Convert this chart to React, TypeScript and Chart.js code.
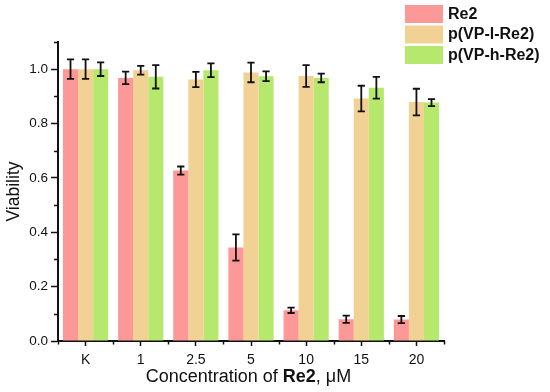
import React, { useEffect, useRef } from "react";
import { Chart, registerables } from "chart.js";

Chart.register(...registerables);

const categories = ["K", "1", "2.5", "5", "10", "15", "20"];
const seriesNames = ["Re2", "p(VP-l-Re2)", "p(VP-h-Re2)"];
const seriesColors = ["#fc9898", "#f1d194", "#b5e86c"];
const re2Values = [1.0, 0.968, 0.627, 0.344, 0.113, 0.08, 0.079];
const re2Errors = [0.036, 0.023, 0.015, 0.048, 0.01, 0.013, 0.013];
const lowValues = [1.0, 0.996, 0.962, 0.988, 0.975, 0.892, 0.879];
const lowErrors = [0.036, 0.016, 0.028, 0.036, 0.04, 0.047, 0.049];
const highValues = [1.0, 0.972, 0.996, 0.974, 0.968, 0.932, 0.877];
const highErrors = [0.025, 0.043, 0.025, 0.018, 0.016, 0.04, 0.013];
const yTicks = [0, 0.2, 0.4, 0.6, 0.8, 1.0];
const yMinorTicks = [0.1, 0.3, 0.5, 0.7, 0.9, 1.1];
const yMax = 1.1;

const FONT = "'Liberation Sans', Arial, sans-serif";

const errorBarPlugin = {
  id: "errorBars",
  afterDatasetsDraw(chart: any) {
    const ctx = chart.ctx;
    const yScale = chart.scales.y;
    const errs = [re2Errors, lowErrors, highErrors];
    ctx.save();
    ctx.strokeStyle = "#111";
    ctx.lineWidth = 1.8;
    chart.data.datasets.forEach((ds: any, di: number) => {
      const meta = chart.getDatasetMeta(di);
      meta.data.forEach((bar: any, i: number) => {
        const v = ds.data[i];
        const e = errs[di][i];
        const x = bar.x;
        const yt = yScale.getPixelForValue(v + e);
        const yb = yScale.getPixelForValue(v - e);
        const cw = 3.6;
        ctx.beginPath();
        ctx.moveTo(x, yt);
        ctx.lineTo(x, yb);
        ctx.moveTo(x - cw, yt);
        ctx.lineTo(x + cw, yt);
        ctx.moveTo(x - cw, yb);
        ctx.lineTo(x + cw, yb);
        ctx.stroke();
      });
    });
    ctx.restore();
  },
};

const decorPlugin = {
  id: "decor",
  afterDraw(chart: any) {
    const ctx = chart.ctx;
    const area = chart.chartArea;
    const xs = chart.scales.x;
    const ys = chart.scales.y;
    ctx.save();
    // minor ticks
    ctx.strokeStyle = "#111";
    ctx.lineWidth = 1.5;
    ctx.beginPath();
    yMinorTicks.forEach((v) => {
      const y = Math.round(ys.getPixelForValue(v)) + 0.5;
      ctx.moveTo(area.left - 4, y);
      ctx.lineTo(area.left, y);
    });
    for (let i = -0.5; i <= categories.length - 0.5; i += 1) {
      const x = Math.round(xs.getPixelForValue(i)) + 0.5;
      ctx.moveTo(x, area.bottom);
      ctx.lineTo(x, area.bottom + 3.5);
    }
    ctx.stroke();

    // x title with bold part
    ctx.fillStyle = "#111";
    ctx.textBaseline = "middle";
    const parts = [
      { t: "Concentration of ", f: `18px ${FONT}` },
      { t: "Re2", f: `bold 18px ${FONT}` },
      { t: ", \u03bcM", f: `18px ${FONT}` },
    ];
    let total = 0;
    parts.forEach((p) => {
      ctx.font = p.f;
      total += ctx.measureText(p.t).width;
    });
    let x0 = 248.5 - total / 2;
    const ty = 377;
    ctx.textAlign = "left";
    parts.forEach((p) => {
      ctx.font = p.f;
      ctx.fillText(p.t, x0, ty);
      x0 += ctx.measureText(p.t).width;
    });

    // y title
    ctx.save();
    ctx.translate(14, (area.top + area.bottom) / 2);
    ctx.rotate(-Math.PI / 2);
    ctx.textAlign = "center";
    ctx.font = `17.5px ${FONT}`;
    ctx.fillText("Viability", 0, 0);
    ctx.restore();

    // legend
    const lx = 405;
    const sw = 38;
    const sh = 18;
    const ly0 = 5;
    const step = 20.5;
    seriesNames.forEach((name, i) => {
      const y = ly0 + i * step;
      ctx.fillStyle = seriesColors[i];
      ctx.fillRect(lx, y, sw, sh);
      ctx.fillStyle = "#111";
      ctx.font = `bold 16px ${FONT}`;
      ctx.textAlign = "left";
      ctx.textBaseline = "middle";
      ctx.fillText(name, lx + sw + 5, y + sh / 2 + 0.5);
    });
    ctx.restore();
  },
};

export default function App() {
  const ref = useRef<HTMLCanvasElement | null>(null);
  useEffect(() => {
    document.body.style.margin = "0";
    const canvas = ref.current;
    if (!canvas) return;
    const chart = new Chart(canvas, {
      type: "bar",
      data: {
        labels: categories,
        datasets: [
          { label: seriesNames[0], data: re2Values, backgroundColor: seriesColors[0] },
          { label: seriesNames[1], data: lowValues, backgroundColor: seriesColors[1] },
          { label: seriesNames[2], data: highValues, backgroundColor: seriesColors[2] },
        ],
      },
      options: {
        responsive: false,
        animation: false,
        devicePixelRatio: 1,
        layout: { padding: { left: 0, right: 106, top: 42, bottom: 0 } },
        datasets: { bar: { categoryPercentage: 0.82, barPercentage: 1.0, borderWidth: 0 } },
        plugins: { legend: { display: false }, tooltip: { enabled: false } },
        scales: {
          x: {
            afterFit: (s: any) => {
              s.height = 51;
            },
            grid: {
              display: true,
              offset: false,
              drawOnChartArea: false,
              drawTicks: true,
              tickLength: 5,
              tickColor: "#111",
              tickWidth: 1.5,
            },
            border: { display: true, color: "#111", width: 2 },
            ticks: {
              padding: 6,
              color: "#111",
              font: { family: FONT, size: 14 },
              maxRotation: 0,
            },
          },
          y: {
            min: 0,
            max: yMax,
            afterFit: (s: any) => {
              s.width = 58;
            },
            afterBuildTicks: (s: any) => {
              s.ticks = yTicks.map((v) => ({ value: v }));
            },
            grid: {
              display: true,
              drawOnChartArea: false,
              drawTicks: true,
              tickLength: 7,
              tickColor: "#111",
              tickWidth: 1.5,
            },
            border: { display: true, color: "#111", width: 2 },
            ticks: {
              padding: 3,
              color: "#111",
              font: { family: FONT, size: 13.5 },
              callback: (v: any) => Number(v).toFixed(1),
            },
          },
        },
      },
      plugins: [errorBarPlugin, decorPlugin],
    });
    return () => chart.destroy();
  }, []);
  return (
    <div style={{ width: 550, height: 392, background: "#fff" }}>
      <canvas ref={ref} width={550} height={392} style={{ display: "block" }} />
    </div>
  );
}
